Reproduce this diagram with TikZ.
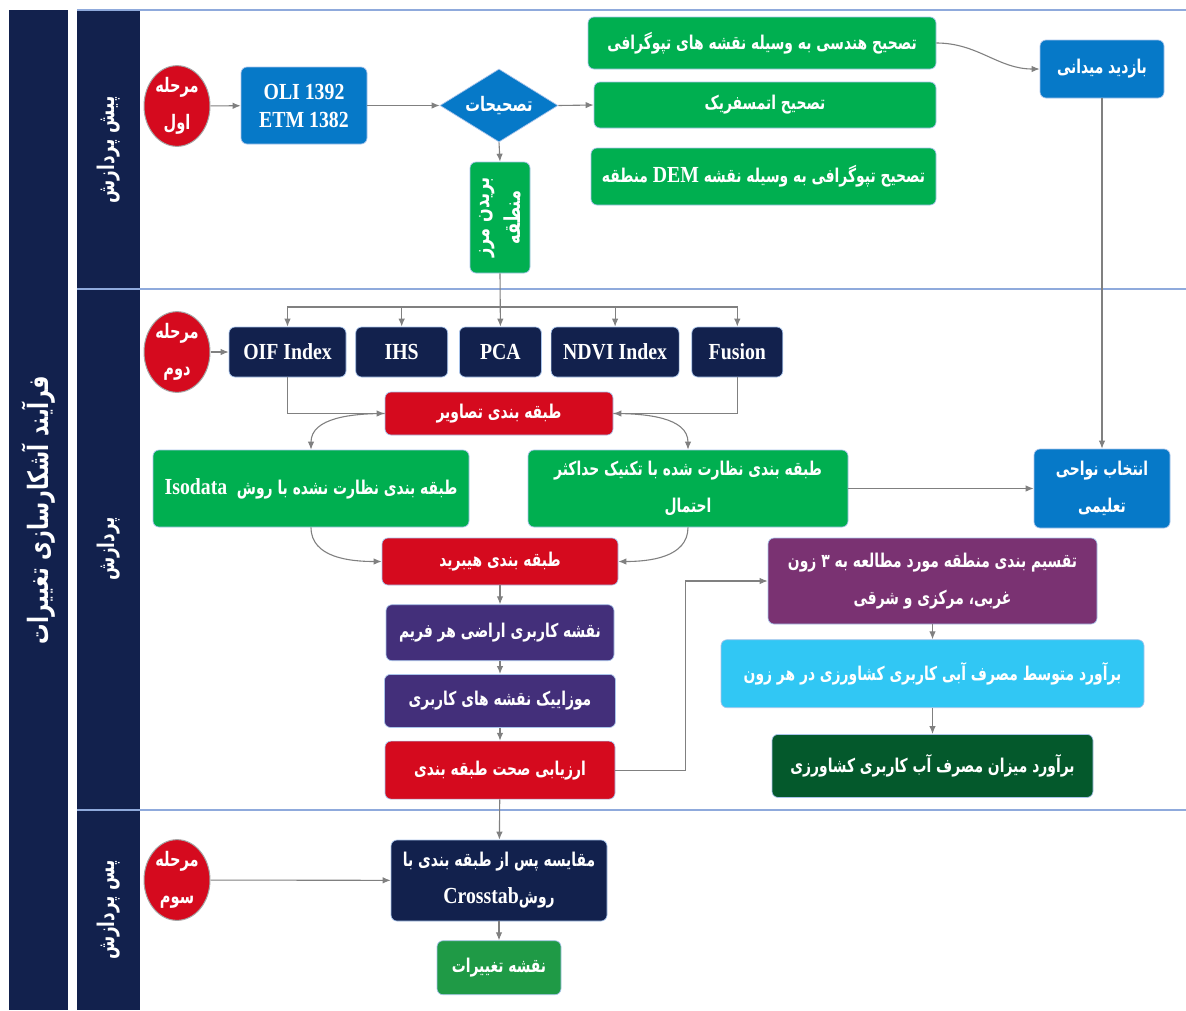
\documentclass[tikz,border=0pt]{standalone}
\usepackage{fontspec}
\setmainfont{Liberation Serif}[FakeStretch=0.86]
\newfontfamily\arabicfont[Script=Arabic,FakeStretch=0.73]{DejaVu Sans}
\TeXXeTstate=1
\usetikzlibrary{positioning,shapes.geometric,arrows.meta}

\definecolor{navy}{HTML}{12214D}
\definecolor{redc}{HTML}{D50A1E}
\definecolor{bluec}{HTML}{0679C8}
\definecolor{greenc}{HTML}{00AF50}
\definecolor{indigoc}{HTML}{432F7A}
\definecolor{plumc}{HTML}{7A3272}
\definecolor{cyanc}{HTML}{31C7F4}
\definecolor{dkgreenc}{HTML}{04592C}
\definecolor{midgreenc}{HTML}{1F9A46}
\definecolor{lanec}{HTML}{8FAADC}
\definecolor{edgec}{HTML}{A9C4EB}
\definecolor{arrowc}{HTML}{808080}

\newcommand{\fatext}[1]{\beginR#1\endR}
\newcommand{\entext}[1]{\beginL{\rmfamily\fontsize{23}{37}\selectfont #1}\endL}

\begin{document}
\begin{tikzpicture}[x=1pt,y=1pt,>={Latex[length=8pt,width=6.5pt]},
	flow/.style={draw=arrowc, line width=1.1pt},
	lane/.style={draw=lanec, line width=1.4pt},
	box/.style={rectangle, 
				rounded corners=6pt, 
				draw=edgec, 
				line width=0.7pt, 
				text=white, 
				inner sep=2pt, 
				align=center, 
				font=\arabicfont\bfseries\fontsize{19}{37}\selectfont},
	latin/.style={font=\rmfamily\bfseries\fontsize{23}{28}\selectfont},
	stage/.style={ellipse, 
				fill=redc, 
				draw=black!35, 
				line width=1pt, 
				minimum width=66pt, 
				minimum height=78pt, 
				inner sep=0pt, 
				text=white, 
				align=center, 
				font=\arabicfont\bfseries\fontsize{20}{37}\selectfont},
	lanetext/.style={rotate=90, text=white, font=\arabicfont\bfseries\fontsize{23}{26}\selectfont}]
	\useasboundingbox (0,0) rectangle (1186,-1010);
	% swimlanes
	\fill[navy] (9,-10) rectangle (68,-1010);
	\fill[navy] (77,-10) rectangle (140,-1010);
	\draw[lane] (77,-10) -- (1186,-10);
	\draw[lane] (77,-289) -- (1186,-289);
	\draw[lane] (77,-810) -- (1186,-810);
	\node[rotate=90, text=white, font=\arabicfont\bfseries\fontsize{28}{32}\selectfont] (title) at (39,-510) {\fatext{فرآیند آشکارسازی تغییرات}};
	\node[lanetext] (lane1) at (109,-150) {\fatext{پیش پردازش}};
	\node[lanetext] (lane2) at (109,-549) {\fatext{پردازش}};
	\node[lanetext] (lane3) at (109,-910) {\fatext{پس پردازش}};
	% first stage
	\node[stage] (st1) at (177,-106) {\fatext{مرحله}\\\fatext{اول}};
	\node[box, latin, fill=bluec, minimum width=126pt, minimum height=77pt] (oli) at (304,-105.5) {OLI 1392\\ETM 1382};
	\node[diamond, aspect=2, fill=bluec, draw=edgec, line width=0.7pt, text=white, inner sep=0pt, minimum width=118pt, minimum height=73pt, font=\arabicfont\bfseries\fontsize{20}{24}\selectfont] (corr) at (499,-105.5) {\fatext{تصحیحات}};
	\node[box, fill=greenc, minimum width=348pt, minimum height=52pt] (geo) at (762,-43) {\fatext{تصحیح هندسی به وسیله نقشه های تپوگرافی}};
	\node[box, fill=greenc, minimum width=342pt, minimum height=46pt] (atm) at (765,-105) {\fatext{تصحیح اتمسفریک}};
	\node[box, fill=greenc, minimum width=345pt, minimum height=57pt] (topo) at (763.5,-176.5) {\fatext{تصحیح تپوگرافی به وسیله نقشه \entext{DEM} منطقه}};
	\node[box, fill=bluec, minimum width=124pt, minimum height=58pt] (field) at (1102,-69) {\fatext{بازدید میدانی}};
	\node[box, fill=greenc, minimum width=60pt, minimum height=111pt] (clip) at (500,-217.5) {};
	\node[rotate=90, text=white, align=center, font=\arabicfont\bfseries\fontsize{22}{31}\selectfont] (cliptext) at (clip) {\fatext{بریدن مرز}\\\fatext{منطقه}};
	% second stage
	\node[stage] (st2) at (177,-352) {\fatext{مرحله}\\\fatext{دوم}};
	\node[box, latin, fill=navy, minimum width=117pt, minimum height=50pt] (oif) at (287.5,-352) {OIF Index};
	\node[box, latin, fill=navy, minimum width=92pt, minimum height=50pt, right=9pt of oif] (ihs) {IHS};
	\node[box, latin, fill=navy, minimum width=82pt, minimum height=50pt, right=11pt of ihs] (pca) {PCA};
	\node[box, latin, fill=navy, minimum width=128pt, minimum height=50pt, right=9pt of pca] (ndvi) {NDVI Index};
	\node[box, latin, fill=navy, minimum width=91pt, minimum height=50pt, right=12pt of ndvi] (fus) {Fusion};
	\node[box, fill=redc, minimum width=228pt, minimum height=43pt] (cls) at (499,-413.5) {\fatext{طبقه بندی تصاویر}};
	\node[box, fill=greenc, minimum width=316pt, minimum height=77pt] (iso) at (311,-488.5) {\fatext{طبقه بندی نظارت نشده با روش \ \entext{Isodata}}};
	\node[box, fill=greenc, minimum width=320pt, minimum height=77pt] (ml) at (688,-488.5) {\fatext{طبقه بندی نظارت شده با تکنیک حداکثر}\\\fatext{احتمال}};
	\node[box, fill=bluec, minimum width=136pt, minimum height=79pt] (train) at (1102,-488.5) {\fatext{انتخاب نواحی}\\\fatext{تعلیمی}};
	\node[box, fill=redc, minimum width=236pt, minimum height=47pt] (hyb) at (500,-561.5) {\fatext{طبقه بندی هیبرید}};
	\node[box, fill=indigoc, minimum width=228pt, minimum height=56pt, below=19pt of hyb] (luse) {\fatext{نقشه کاربری اراضی هر فریم}};
	\node[box, fill=indigoc, minimum width=231pt, minimum height=53pt, below=13pt of luse] (mos) {\fatext{موزاییک نقشه های کاربری}};
	\node[box, fill=redc, minimum width=230pt, minimum height=58pt, below=13pt of mos] (acc) {\fatext{ارزیابی صحت طبقه بندی}};
	\node[box, fill=plumc, minimum width=329pt, minimum height=86pt] (zone) at (932.5,-581) {\fatext{تقسیم بندی منطقه مورد مطالعه به ۳ زون}\\\fatext{غربی، مرکزی و شرقی}};
	\node[box, fill=cyanc, minimum width=423pt, minimum height=68pt, below=15pt of zone] (avg) {\fatext{برآورد متوسط مصرف آبی کاربری کشاورزی در هر زون}};
	\node[box, fill=dkgreenc, minimum width=321pt, minimum height=63pt, below=26pt of avg] (tot) {\fatext{برآورد میزان مصرف آب کاربری کشاورزی}};
	% third stage
	\node[stage] (st3) at (177,-880) {\fatext{مرحله}\\\fatext{سوم}};
	\node[box, fill=navy, minimum width=216pt, minimum height=81pt] (cross) at (499,-880.5) {\fatext{مقایسه پس از طبقه بندی با}\\\fatext{روش\entext{Crosstab}}};
	\node[box, fill=midgreenc, minimum width=124pt, minimum height=54pt, below=19pt of cross] (chg) {\fatext{نقشه تغییرات}};
	% connectors
	\coordinate (split) at (clip.south |- 0,-307);
	\draw[flow,->] (st1) -- (oli);
	\draw[flow,->] (oli) -- (corr);
	\draw[flow,->] (corr.east) -- (atm.west);
	\draw[flow,->] (corr.south) -- (clip.north);
	\draw[flow,->] (geo.east) to[out=0,in=180] (field.west);
	\draw[flow,->] (field.south) -- (train.north);
	\draw[flow,->] (clip.south) -- (pca.north);
	\draw[flow,->] (split) -| (oif.north);
	\draw[flow,->] (split) -| (ihs.north);
	\draw[flow,->] (split) -| (ndvi.north);
	\draw[flow,->] (split) -| (fus.north);
	\draw[flow,->] (st2) -- (oif);
	\draw[flow,->] (oif.south) |- (cls.west);
	\draw[flow,->] (fus.south) |- (cls.east);
	\draw[flow,->] (cls.west) to[out=180,in=90] (iso.north);
	\draw[flow,->] (cls.east) to[out=0,in=90] (ml.north);
	\draw[flow,->] (iso.south) to[out=-90,in=180] (hyb.west);
	\draw[flow,->] (ml.south) to[out=-90,in=0] (hyb.east);
	\draw[flow,->] (ml.east) -- (train.west);
	\draw[flow,->] (hyb) -- (luse);
	\draw[flow,->] (luse) -- (mos);
	\draw[flow,->] (mos) -- (acc);
	\draw[flow,->] (acc.east) -- ++(70,0) |- (zone.west);
	\draw[flow,->] (zone) -- (avg);
	\draw[flow,->] (avg) -- (tot);
	\draw[flow,->] (acc) -- (cross);
	\draw[flow,->] (st3) -- (cross);
	\draw[flow,->] (cross) -- (chg);
\end{tikzpicture}
\end{document}
